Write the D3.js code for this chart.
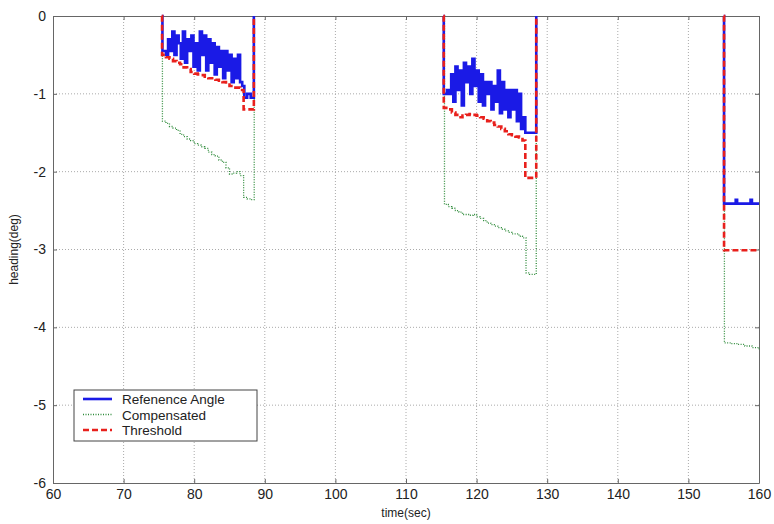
<!DOCTYPE html>
<html>
<head>
<meta charset="utf-8">
<script src="https://cdn.jsdelivr.net/npm/d3@7"></script>
<style>
  body { margin: 0; background: #fff; }
  text { font-family: "Liberation Sans", Arial, sans-serif; fill: #222; }
</style>
</head>
<body>
<div id="chart"></div>
<script>
// data: [time(sec), heading(deg)], null = gap between runs
const refAngle = [
  // first run
  [75.4, 0], [75.5, -0.45], [76.0, -0.5], [76.3, -0.3], [76.6, -0.45], [76.9, -0.2], [77.2, -0.5],
  [77.5, -0.25], [77.8, -0.35], [78.1, -0.55], [78.4, -0.2], [78.7, -0.6], [79.0, -0.3], [79.3, -0.45],
  [79.6, -0.25], [79.9, -0.65], [80.2, -0.35], [80.5, -0.7], [80.8, -0.2], [81.1, -0.5], [81.4, -0.25],
  [81.7, -0.7], [82.0, -0.3], [82.3, -0.6], [82.6, -0.35], [82.9, -0.75], [83.2, -0.4], [83.5, -0.65],
  [83.8, -0.45], [84.1, -0.8], [84.4, -0.45], [84.7, -0.7], [85.0, -0.5], [85.3, -0.85], [85.6, -0.55],
  [85.9, -0.8], [86.2, -0.5], [86.5, -0.85], [86.8, -0.9], [87.1, -1.05], [87.5, -1.0], [88.0, -1.05],
  [88.45, 0], null,
  // second run
  [115.3, 0], [115.35, -1.0], [115.8, -0.95], [116.1, -1.0], [116.4, -0.75], [116.7, -1.1], [117.0, -0.65],
  [117.3, -0.95], [117.6, -0.7], [117.9, -1.15], [118.2, -0.6], [118.5, -0.85], [118.8, -0.65],
  [119.1, -1.0], [119.4, -0.55], [119.7, -0.9], [120.0, -0.7], [120.3, -1.1], [120.6, -0.75],
  [120.9, -1.15], [121.2, -0.85], [121.5, -1.0], [121.8, -0.85], [122.1, -1.2], [122.4, -0.9],
  [122.7, -1.1], [123.0, -0.7], [123.3, -1.25], [123.6, -0.85], [123.9, -1.2], [124.2, -0.95],
  [124.5, -1.3], [124.8, -0.95], [125.1, -1.2], [125.4, -0.95], [125.7, -1.35], [126.0, -1.0],
  [126.3, -1.45], [126.6, -1.3], [126.9, -1.5], [128.45, 0], null,
  // third run
  [155.0, 0], [155.05, -2.41], [156.7, -2.36], [156.9, -2.41], [158.8, -2.36], [159.0, -2.41], [160, -2.41]
];

const compensated = [
  [75.45, 0], [75.5, -1.35], [76.0, -1.38], [76.5, -1.42], [77.0, -1.44], [77.5, -1.47], [78.0, -1.52],
  [78.5, -1.55], [79.0, -1.58], [79.5, -1.6], [80.0, -1.64], [80.5, -1.66], [81.0, -1.68], [81.5, -1.7],
  [82.0, -1.75], [82.5, -1.78], [83.0, -1.8], [83.5, -1.85], [84.0, -1.88], [84.5, -1.95], [85.0, -2.03],
  [85.5, -2.02], [86.0, -2.0], [86.5, -2.05], [87.0, -2.33], [87.5, -2.35], [88.0, -2.36],
  [88.5, 0], null,
  [115.4, 0], [115.45, -2.42], [116.0, -2.45], [116.5, -2.47], [117.0, -2.5], [117.5, -2.52], [118.0, -2.55],
  [118.5, -2.55], [119.0, -2.56], [119.5, -2.55], [120.0, -2.58], [120.5, -2.6], [121.0, -2.63],
  [121.5, -2.66], [122.0, -2.68], [122.5, -2.7], [123.0, -2.72], [123.5, -2.74], [124.0, -2.76],
  [124.5, -2.78], [125.0, -2.8], [125.5, -2.8], [126.0, -2.83], [126.5, -2.85], [127.0, -3.3],
  [127.5, -3.32], [128.45, 0], null,
  [155.05, 0], [155.1, -4.2], [156.0, -4.21], [157.0, -4.22], [158.0, -4.24], [159.0, -4.26], [160, -4.28]
];

const threshold = [
  [75.4, 0], [75.45, -0.5], [76.0, -0.53], [76.5, -0.55], [77.0, -0.58], [77.5, -0.6], [78.0, -0.62],
  [78.5, -0.66], [79.0, -0.68], [79.5, -0.72], [80.0, -0.74], [80.5, -0.75], [81.0, -0.76], [81.5, -0.78],
  [82.0, -0.8], [82.5, -0.8], [83.0, -0.82], [83.5, -0.83], [84.0, -0.85], [84.5, -0.88], [85.0, -0.9],
  [85.5, -0.92], [86.0, -0.92], [86.5, -0.95], [87.0, -1.2], [88.45, 0], null,
  [115.3, 0], [115.35, -1.18], [116.0, -1.2], [116.5, -1.24], [117.0, -1.27], [117.5, -1.3], [118.0, -1.28],
  [118.5, -1.27], [119.0, -1.26], [119.5, -1.27], [120.0, -1.28], [120.5, -1.3], [121.0, -1.32],
  [121.5, -1.35], [122.0, -1.37], [122.5, -1.4], [123.0, -1.42], [123.5, -1.45], [124.0, -1.48],
  [124.5, -1.52], [125.0, -1.53], [125.5, -1.55], [126.0, -1.56], [126.5, -1.6], [126.9, -2.08],
  [128.45, 0], null,
  [155.0, 0], [155.05, -3.01], [160, -3.01]
];

const xTicks = [60, 70, 80, 90, 100, 110, 120, 130, 140, 150, 160];
const yTicks = [0, -1, -2, -3, -4, -5, -6];
const legendNames = ["Refenence Angle", "Compensated", "Threshold"];

const margin = {top: 16, right: 15, bottom: 41, left: 53},
      width = 774 - margin.left - margin.right,
      height = 524 - margin.top - margin.bottom;

const svg = d3.select("#chart")
  .append("svg")
    .attr("width", 774)
    .attr("height", 524)
  .append("g")
    .attr("transform", `translate(${margin.left},${margin.top})`);

const x = d3.scaleLinear().domain([60, 160]).range([0, width]);
const y = d3.scaleLinear().domain([-6, 0]).range([height, 0]);

// dotted grid
svg.append("g")
  .selectAll("line")
  .data(xTicks.slice(1, -1))
  .join("line")
    .attr("x1", d => x(d)).attr("x2", d => x(d))
    .attr("y1", 0).attr("y2", height)
    .attr("stroke", "#aaa").attr("stroke-dasharray", "1,2");

svg.append("g")
  .selectAll("line")
  .data(yTicks.slice(1, -1))
  .join("line")
    .attr("x1", 0).attr("x2", width)
    .attr("y1", d => y(d)).attr("y2", d => y(d))
    .attr("stroke", "#aaa").attr("stroke-dasharray", "1,2");

// axes, ticks pointing inward, plain hyphen minus
const fmt = d => String(d);
svg.append("g")
  .attr("transform", `translate(0,${height})`)
  .call(d3.axisBottom(x).tickValues(xTicks).tickSizeInner(-4).tickSizeOuter(0).tickPadding(6).tickFormat(fmt));
svg.append("g")
  .call(d3.axisLeft(y).tickValues(yTicks).tickSizeInner(-4).tickSizeOuter(0).tickPadding(7).tickFormat(fmt));
svg.append("g")
  .call(d3.axisTop(x).tickValues(xTicks).tickSizeInner(-4).tickSizeOuter(0).tickFormat(""));
svg.append("g")
  .attr("transform", `translate(${width},0)`)
  .call(d3.axisRight(y).tickValues(yTicks).tickSizeInner(-4).tickSizeOuter(0).tickFormat(""));

svg.selectAll(".domain, .tick line").attr("stroke", "#666");
svg.selectAll(".tick text")
  .style("font-family", "'Liberation Sans', Arial, sans-serif")
  .style("font-size", "14px")
  .attr("fill", "#222");

// lines, split into runs
const line = d3.line()
  .defined(d => d !== null)
  .x(d => x(d[0]))
  .y(d => y(d[1]))
  .curve(d3.curveStepAfter);

const plot = svg.append("g");

plot.append("path")
  .datum(compensated)
  .attr("fill", "none")
  .attr("stroke", "#2e8b3a")
  .attr("stroke-width", 1.3)
  .attr("stroke-dasharray", "1,1.5")
  .attr("d", line);

plot.append("path")
  .datum(refAngle)
  .attr("fill", "none")
  .attr("stroke", "#1a1ae6")
  .attr("stroke-width", 2.6)
  .attr("d", line);

plot.append("path")
  .datum(threshold)
  .attr("fill", "none")
  .attr("stroke", "#e8201c")
  .attr("stroke-width", 2.6)
  .attr("stroke-dasharray", "6,3")
  .attr("d", line);

// axis labels
svg.append("text")
  .attr("x", width / 2)
  .attr("y", height + 34)
  .attr("text-anchor", "middle")
  .style("font-size", "12px")
  .text("time(sec)");

svg.append("text")
  .attr("transform", `translate(${-35},${height / 2}) rotate(-90)`)
  .attr("text-anchor", "middle")
  .style("font-size", "12px")
  .text("heading(deg)");

// legend
const legend = svg.append("g").attr("transform", `translate(${74 - margin.left},${390 - margin.top})`);
legend.append("rect")
  .attr("width", 183).attr("height", 51)
  .attr("fill", "#fff").attr("stroke", "#444");

const legendStyle = [
  {stroke: "#1a1ae6", width: 2.6, dash: null},
  {stroke: "#2e8b3a", width: 1.3, dash: "1,1.5"},
  {stroke: "#e8201c", width: 2.6, dash: "6,3"}
];

legendNames.forEach((name, i) => {
  const ly = 9 + i * 15.5;
  legend.append("line")
    .attr("x1", 9).attr("x2", 38)
    .attr("y1", ly).attr("y2", ly)
    .attr("stroke", legendStyle[i].stroke)
    .attr("stroke-width", legendStyle[i].width)
    .attr("stroke-dasharray", legendStyle[i].dash);
  legend.append("text")
    .attr("x", 48).attr("y", ly + 5)
    .style("font-size", "13.5px")
    .text(name);
});
</script>
</body>
</html>
